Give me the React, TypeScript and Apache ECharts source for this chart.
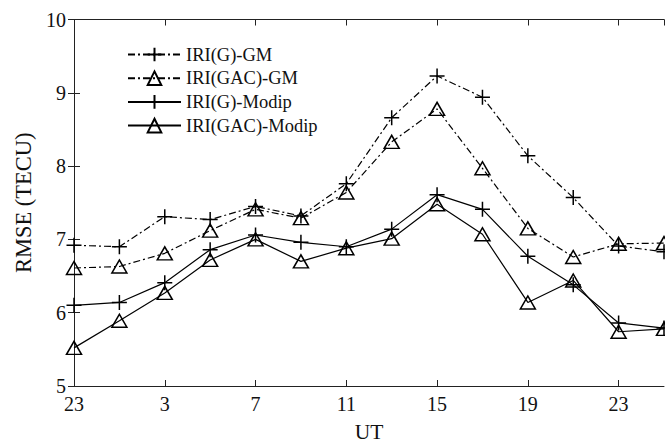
import React, { useEffect, useRef } from "react";
import * as echarts from "echarts";

const utHours = [23, 1, 3, 5, 7, 9, 11, 13, 15, 17, 19, 21, 23, 1];
const seriesNames = ["IRI(G)-GM", "IRI(GAC)-GM", "IRI(G)-Modip", "IRI(GAC)-Modip"];
const gGM = [6.92, 6.9, 7.31, 7.27, 7.45, 7.32, 7.76, 8.66, 9.23, 8.94, 8.14, 7.57, 6.91, 6.83];
const gacGM = [6.61, 6.63, 6.81, 7.12, 7.41, 7.29, 7.64, 8.33, 8.78, 7.97, 7.15, 6.76, 6.94, 6.95];
const gModip = [6.1, 6.14, 6.41, 6.86, 7.06, 6.96, 6.9, 7.14, 7.61, 7.41, 6.77, 6.38, 5.86, 5.79];
const gacModip = [5.52, 5.89, 6.27, 6.72, 7.0, 6.7, 6.88, 7.01, 7.48, 7.07, 6.14, 6.44, 5.74, 5.78];

const FONT = "'Liberation Serif', 'Times New Roman', serif";
const PLUS = "path://M5,0L5,10M0,5L10,5";

// elapsed hours since the first UT hour
const elapsed: number[] = [];
utHours.forEach((h, i) => {
  if (i === 0) elapsed.push(0);
  else {
    const prev = utHours[i - 1];
    const d = (h - prev + 24) % 24;
    elapsed.push(elapsed[i - 1] + d);
  }
});
const startHour = utHours[0];

export default function App() {
  const ref = useRef<HTMLDivElement>(null);
  useEffect(() => {
    if (!ref.current) return;
    const chart = echarts.init(ref.current, null, { renderer: "svg" });
    const dashDot = [7, 3, 2, 3];
    const mk = (name: string, vals: number[], plus: boolean, dashed: boolean) => ({
      name,
      type: "line",
      data: vals.map((v, i) => [elapsed[i], v]),
      symbol: plus ? PLUS : "triangle",
      symbolSize: plus ? 15 : [15, 13],
      showSymbol: true,
      itemStyle: { color: "none", borderColor: "#000", borderWidth: 1.5 },
      lineStyle: { color: "#000", width: 1.2, type: dashed ? dashDot : "solid" },
      emphasis: { disabled: true },
      clip: false,
    });
    const axisLine = { show: true, lineStyle: { color: "#222", width: 1 } };
    const tick = { show: true, inside: true, length: 6, lineStyle: { color: "#222" } };
    chart.setOption({
      animation: false,
      backgroundColor: "#fff",
      grid: { left: 74, right: 1, top: 19.5, bottom: 57, containLabel: false },
      legend: {
        orient: "vertical",
        left: 122,
        top: 40,
        itemWidth: 53,
        itemHeight: 17,
        itemGap: 4.7,
        textStyle: { fontFamily: FONT, fontSize: 18.5, color: "#111", lineHeight: 18, padding: [0, 0, 0, 0] },
        data: seriesNames,
      },
      xAxis: [
        {
          type: "value",
          min: 0,
          max: 26,
          interval: 4,
          name: "UT",
          nameLocation: "middle",
          nameGap: 35,
          nameTextStyle: { fontFamily: FONT, fontSize: 21.5, color: "#111" },
          axisLine,
          axisTick: tick,
          splitLine: { show: false },
          axisLabel: {
            fontFamily: FONT,
            fontSize: 20,
            color: "#111",
            margin: 8,
            showMaxLabel: false,
            formatter: (v: number) => (v > 24 ? "" : String((v + startHour) % 24)),
          },
        },
        {
          type: "value",
          position: "top",
          min: 0,
          max: 26,
          interval: 4,
          axisLine,
          axisTick: tick,
          axisLabel: { show: false },
          splitLine: { show: false },
        },
      ],
      yAxis: [
        {
          type: "value",
          min: 5,
          max: 10,
          interval: 1,
          name: "RMSE (TECU)",
          nameLocation: "middle",
          nameGap: 38,
          nameTextStyle: { fontFamily: FONT, fontSize: 22.5, color: "#111" },
          axisLine,
          axisTick: tick,
          splitLine: { show: false },
          axisLabel: { fontFamily: FONT, fontSize: 20, color: "#111", margin: 8 },
        },
        {
          type: "value",
          position: "right",
          min: 5,
          max: 10,
          interval: 1,
          axisLine,
          axisTick: tick,
          axisLabel: { show: false },
          splitLine: { show: false },
        },
      ],
      series: [
        mk(seriesNames[0], gGM, true, true),
        mk(seriesNames[1], gacGM, false, true),
        mk(seriesNames[2], gModip, true, false),
        mk(seriesNames[3], gacModip, false, false),
      ],
    });
    return () => chart.dispose();
  }, []);
  return (
    <div
      ref={ref}
      style={{ position: "fixed", left: 0, top: 0, width: 665, height: 448 }}
    />
  );
}
